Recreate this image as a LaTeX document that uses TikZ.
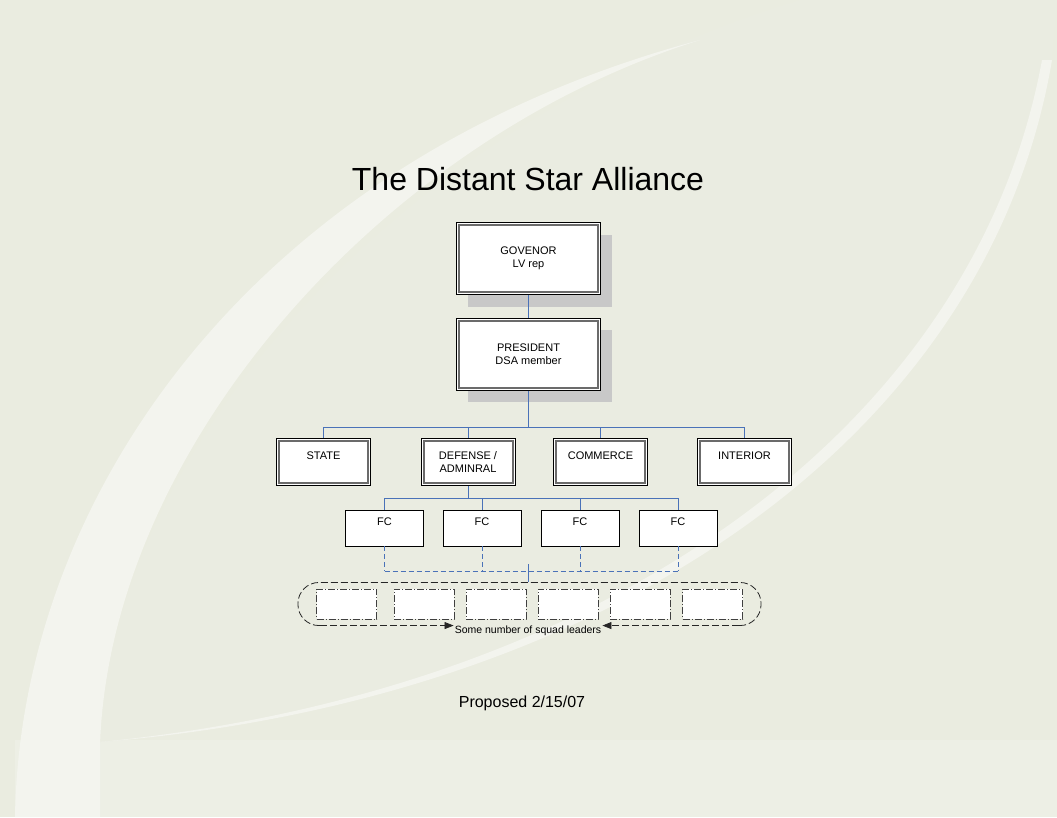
\documentclass[tikz,border=0pt]{standalone}
\usepackage{fontspec}
\setmainfont{Liberation Sans}
\usetikzlibrary{shadows,fit,arrows.meta}

\definecolor{bgbase}{HTML}{EAECE0}
\definecolor{bglens}{HTML}{EAECE1}
\definecolor{bglow}{HTML}{EDEFE5}
\definecolor{bgband}{HTML}{F3F4EE}
\definecolor{linkblue}{HTML}{4A72B8}
\definecolor{shadowgray}{HTML}{C8C8C8}

\begin{document}
\begin{tikzpicture}[x=1pt,y=-1pt,
  officebox/.style={draw=black,line width=1pt,fill=white,inner sep=0pt,align=center,font=\fontsize{11}{13}\selectfont},
  innerframe/.style={draw=black!58,line width=2pt},
  shadowed/.style={general shadow={fill=shadowgray,shadow xshift=11pt,shadow yshift=-12pt}},
  fcbox/.style={draw=black,line width=0.8pt,fill=white,inner sep=0pt,align=center,minimum width=78pt,minimum height=36pt,font=\fontsize{11}{13}\selectfont},
  squadbox/.style={draw=black!75,dash pattern=on 7pt off 2pt on 1pt off 2pt,line width=0.7pt,fill=white,minimum width=60pt,minimum height=30pt},
  link/.style={draw=linkblue,line width=0.8pt},
  linkdash/.style={link,dash pattern=on 5pt off 3pt},
  crewline/.style={draw=black!85,line width=0.8pt,dash pattern=on 7pt off 3pt}]
  \fill[bgbase] (0,0) rectangle (1057,817);
  \fill[bglow] (15,740) rectangle (1057,817);
  \fill[bglens] (100,742) .. controls (110,450) and (400,120) .. (800,0) -- (1057,0) -- (1052,60) .. controls (990,430) and (620,700) .. (100,742) -- cycle;
  \fill[bgband] (15,817) .. controls (20,500) and (250,160) .. (700,40) .. controls (380,140) and (110,450) .. (100,745) -- (100,817) -- cycle;
  \fill[bgband] (1052,60) .. controls (990,430) and (620,700) .. (100,742) .. controls (610,692) and (975,425) .. (1042,60) -- cycle;

  \node[anchor=base,font=\fontsize{32}{38}\selectfont] at (528,190) (title) {The Distant Star Alliance};
  \node[officebox,shadowed,minimum width=144pt,minimum height=72pt] at (528.5,258.5) (gov) {GOVENOR\\LV rep};
  \node[officebox,shadowed,minimum width=144pt,minimum height=72pt] at (528.5,354) (pres) {PRESIDENT\\DSA member};
  \node[officebox,minimum width=94pt,minimum height=47pt] at (323.5,462) (state) {STATE\\\mbox{}};
  \node[officebox,minimum width=94pt,minimum height=47pt] at (468,462) (defense) {DEFENSE /\\ADMINRAL};
  \node[officebox,minimum width=94pt,minimum height=47pt] at (600.5,462) (commerce) {COMMERCE\\\mbox{}};
  \node[officebox,minimum width=94pt,minimum height=47pt] at (744.5,462) (interior) {INTERIOR\\\mbox{}};
  \foreach \b in {gov,pres,state,defense,commerce,interior}
    \draw[innerframe] ([shift={(3,3)}]\b.north west) rectangle ([shift={(-3,-3)}]\b.south east);
  \node[fcbox] at (384.5,528) (fc1) {FC\\\mbox{}};
  \node[fcbox] at (482,528) (fc2) {FC\\\mbox{}};
  \node[fcbox] at (580,528) (fc3) {FC\\\mbox{}};
  \node[fcbox] at (678,528) (fc4) {FC\\\mbox{}};
  \node[squadbox] at (346.5,604) (sq1) {};
  \node[squadbox] at (424,604) (sq2) {};
  \node[squadbox] at (496,604) (sq3) {};
  \node[squadbox] at (568,604) (sq4) {};
  \node[squadbox] at (640,604) (sq5) {};
  \node[squadbox] at (712.5,604) (sq6) {};
  \node[inner xsep=18pt,inner ysep=6pt,fit=(sq1) (sq6)] (crew) {};
  \node[anchor=base,inner sep=1pt,font=\fontsize{10.5}{12}\selectfont] at (528,633.5) (crewnote) {Some number of squad leaders};
  \node[anchor=base,font=\fontsize{16}{19}\selectfont] at (522,707) (proposed) {Proposed 2/15/07};

  \coordinate (presbar) at (528.5,427);
  \coordinate (defbar) at (468,498);
  \coordinate (fcbar) at (528,571);
  \coordinate (crewtick) at (528,564);
  \draw[link] (gov) -- (pres);
  \draw[link] (pres.south) -- (presbar);
  \foreach \d in {state,defense,commerce,interior}
    \draw[link] (presbar) -| (\d.north);
  \draw[link] (defense.south) -- (defbar);
  \foreach \i in {1,...,4} {
    \draw[link] (defbar) -| (fc\i.north);
    \draw[linkdash] (fc\i.south) -- (fc\i.south |- fcbar);
  }
  \draw[linkdash] (fc1.south |- fcbar) -- (fc4.south |- fcbar);
  \draw[link] (crewtick) -- (crewtick |- crew.north);
  \draw[crewline,rounded corners=21pt] ([xshift=22pt]crew.south west) -- (crew.south west) -- (crew.north west) -- (crew.north east) -- (crew.south east) -- ([xshift=-22pt]crew.south east);
  \draw[crewline,-{Triangle[length=9pt,width=7pt]}] ([xshift=22pt]crew.south west) -- (crewnote.west |- crew.south);
  \draw[crewline,-{Triangle[length=9pt,width=7pt]}] ([xshift=-22pt]crew.south east) -- (crewnote.east |- crew.south);
\end{tikzpicture}
\end{document}
